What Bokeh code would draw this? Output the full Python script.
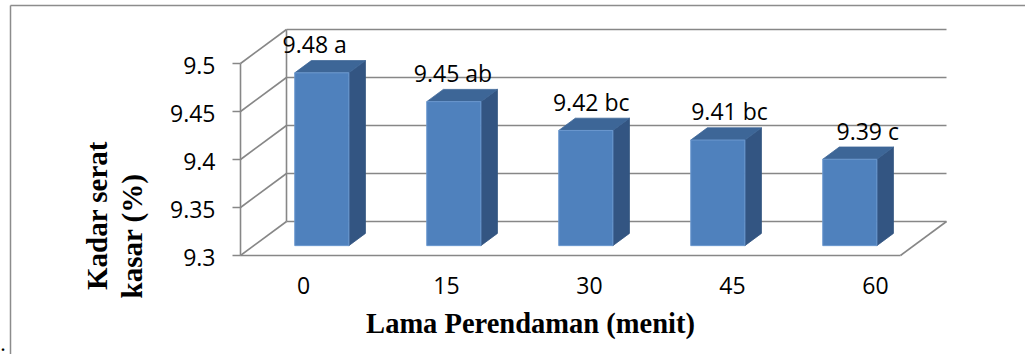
import numpy as np
from bokeh.plotting import figure
from bokeh.models import Range1d
from bokeh.core.properties import value
from bokeh.embed import file_html
from bokeh.resources import INLINE

# ---------------- data ----------------
categories = ["0", "15", "30", "45", "60"]
values = [9.48, 9.45, 9.42, 9.41, 9.39]
letters = ["a", "ab", "bc", "bc", "c"]
y_ticks = [9.3, 9.35, 9.4, 9.45, 9.5]
y_tick_labels = ["9.3", "9.35", "9.4", "9.45", "9.5"]
x_title = "Lama Perendaman (menit)"
y_title = ["Kadar serat", "kasar (%)"]

# ---------------- layout (pixel frame -> data units) ----------------
W, H = 1025, 354
PX_X0, PX_PER_CAT = 240, 132      # front-left corner of plot box, width per category
PX_Y0, PX_PER_VAL = 255, 960      # floor level on front plane, pixels per value unit
Y_MIN, Y_MAX = y_ticks[0], y_ticks[-1]
N = len(categories)


def dx(px):
    return (px - PX_X0) / PX_PER_CAT


def dy(py):
    return Y_MIN + (PX_Y0 - py) / PX_PER_VAL


DEPTH_X = 46 / PX_PER_CAT
DEPTH_Y = 34 / PX_PER_VAL


def proj(x, y, d):
    return x + d * DEPTH_X, y + d * DEPTH_Y


p = figure(width=W, height=H, x_range=Range1d(dx(0), dx(W)), y_range=Range1d(dy(H), dy(0)),
           toolbar_location=None, output_backend="svg", min_border=0)
p.axis.visible = False
p.grid.visible = False
p.outline_line_color = None
p.background_fill_color = "white"
p.border_fill_color = "white"

GRID = "#878787"
GW = 1.6

# outer chart border
p.line([dx(10), dx(10)], [dy(5), dy(H + 5)], line_color="#8c8c8c", line_width=1.5)
p.line([dx(10), dx(W + 5)], [dy(5), dy(5)], line_color="#8c8c8c", line_width=1.5)

# walls gridlines
x0s, y0s, x1s, y1s = [], [], [], []
for t in y_ticks:
    a = proj(0, t, 0); b = proj(0, t, 1); c = proj(N, t, 1)
    x0s += [a[0], b[0]]; y0s += [a[1], b[1]]
    x1s += [b[0], c[0]]; y1s += [b[1], c[1]]
# back wall left edge
a = proj(0, Y_MIN, 1); b = proj(0, Y_MAX, 1)
x0s.append(a[0]); y0s.append(a[1]); x1s.append(b[0]); y1s.append(b[1])
# floor front & right edges
a = proj(0, Y_MIN, 0); b = proj(N, Y_MIN, 0); c = proj(N, Y_MIN, 1)
x0s += [a[0], b[0]]; y0s += [a[1], b[1]]; x1s += [b[0], c[0]]; y1s += [b[1], c[1]]
# front vertical axis
x0s.append(0); y0s.append(Y_MIN); x1s.append(0); y1s.append(Y_MAX)
# tick marks
for t in y_ticks:
    x0s.append(dx(PX_X0 - 8)); y0s.append(t); x1s.append(0); y1s.append(t)
p.segment(x0s, y0s, x1s, y1s, line_color=GRID, line_width=GW)

# bars
D0, D1 = 0.29, 0.65
HALF = 0.205
fx, fy, sx, sy, tx, ty = [], [], [], [], [], []
for i, v in enumerate(values):
    c = i + 0.515
    xl, xr = c - HALF, c + HALF
    pts = [proj(xl, Y_MIN, D0), proj(xr, Y_MIN, D0), proj(xr, v, D0), proj(xl, v, D0)]
    fx.append([q[0] for q in pts]); fy.append([q[1] for q in pts])
    pts = [proj(xr, Y_MIN, D0), proj(xr, Y_MIN, D1), proj(xr, v, D1), proj(xr, v, D0)]
    sx.append([q[0] for q in pts]); sy.append([q[1] for q in pts])
    pts = [proj(xl, v, D0), proj(xr, v, D0), proj(xr, v, D1), proj(xl, v, D1)]
    tx.append([q[0] for q in pts]); ty.append([q[1] for q in pts])
p.patches(sx, sy, fill_color="#335582", line_color="#335582", line_width=0.8)
p.patches(tx, ty, fill_color="#3D6697", line_color="#3D6697", line_width=0.8)
p.patches(fx, fy, fill_color="#4F81BD", line_color="#6B98CF", line_width=1)

# y tick labels
p.text([dx(215)] * len(y_ticks), [t - 1.5 / PX_PER_VAL for t in y_ticks], text=y_tick_labels,
       text_align="right", text_baseline="middle", text_font=value("Open Sans"),
       text_font_size="23px", text_color="black")

# category labels (spread slightly as in the perspective original)
cx = [dx(303) + i * 143 / PX_PER_CAT for i in range(N)]
p.text(cx, [dy(285)] * N, text=categories, text_align="center", text_baseline="middle",
       text_font=value("Open Sans"), text_font_size="23px", text_color="black")

# data labels
lx = [proj(i + 0.515, 0, D0)[0] + 5.4 / PX_PER_CAT + (i - 2) * 6.25 / PX_PER_CAT for i in range(N)]
ly = [v + D1 * DEPTH_Y + 16.5 / PX_PER_VAL for v in values]
lt = [f"{v:.2f} {l}" for v, l in zip(values, letters)]
p.text(lx, ly, text=lt, text_align="center", text_baseline="middle",
       text_font=value("Open Sans"), text_font_size="23px", text_color="black")

# axis titles
p.text([dx(530)], [dy(322.5)], text=[x_title], text_align="center", text_baseline="middle",
       text_font=value("Liberation Serif"), text_font_style="bold", text_font_size="28.5px",
       text_color="black")
p.text([dx(96.5), dx(131)], [dy(215), dy(235.5)], text=y_title, angle=np.pi / 2,
       text_align="center", text_baseline="middle",
       text_font=value("Liberation Serif"), text_font_style="bold", text_font_size="29px",
       text_color="black")

# small stray mark at bottom-left of original
p.text([dx(0.5)], [dy(344.5)], text=["."], text_align="left", text_baseline="middle",
       text_font=value("Liberation Serif"), text_font_style="bold", text_font_size="16px",
       text_color="black")

open("out.html", "w").write(file_html(p, INLINE))
